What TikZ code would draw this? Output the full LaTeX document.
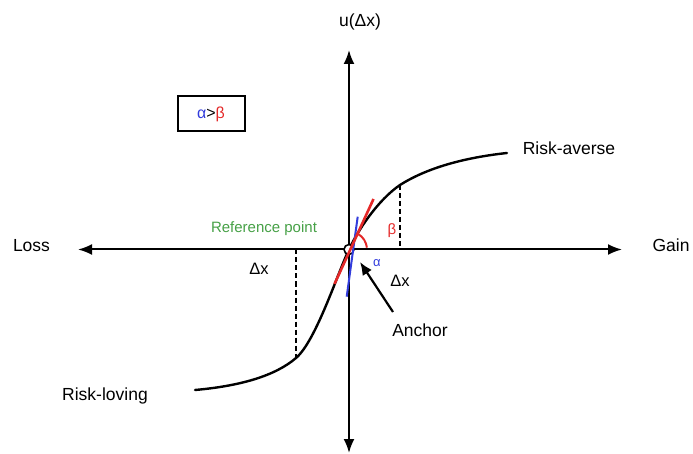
\documentclass[tikz,border=0pt]{standalone}
\usepackage{fontspec}
\setmainfont{Liberation Sans}
\usetikzlibrary{arrows.meta,calc}
\definecolor{myred}{RGB}{228,40,40}
\definecolor{myblue}{RGB}{50,60,220}
\definecolor{mygreen}{RGB}{70,160,70}
\tikzset{
  axis/.style={line width=2pt,-{Latex[length=14pt,width=11pt]}},
  curvestyle/.style={line width=2.4pt,line cap=round},
  dashline/.style={line width=2.4pt,dash pattern=on 5pt off 3pt},
  lbl/.style={font=\fontsize{17.5}{20}\selectfont,inner sep=0pt,anchor=base},
  smalllbl/.style={font=\fontsize{15}{18}\selectfont,inner sep=0pt,anchor=base},
}
\begin{document}
\begin{tikzpicture}[x=1pt,y=-1pt]
\useasboundingbox (0,0) rectangle (693,454);
% axes
\coordinate (O) at (349,249.5);
\coordinate (L) at (78,249.5);
\coordinate (R) at (622,249.5);
\coordinate (T) at (349,50);
\coordinate (B) at (349,453);
\draw[axis] (O) -- (L);
\draw[axis] (O) -- (R);
\draw[axis] (O) -- (T);
\draw[axis] (O) -- (B);
% curve
\coordinate (C0) at (195,390);
\coordinate (C1) at (296,358);
\coordinate (C2) at (400,185);
\coordinate (C3) at (507,153);
\draw[curvestyle] (C0) .. controls (240,386) and (275,376) .. (C1)
  .. controls (316,341) and (338,272) .. (O)
  .. controls (358,230) and (378,200) .. (C2)
  .. controls (430,166) and (470,157) .. (C3);
% dashed
\coordinate (D1) at (296,249.5);
\coordinate (D2) at (400,249.5);
\draw[dashline] (D1) -- (C1);
\draw[dashline] (C2) -- (D2);
% origin circle
\node[circle,draw,fill=white,line width=1.6pt,minimum size=10pt,inner sep=0pt] (oc) at (O) {};
% tangents
\coordinate (BL1) at (357.7,216.7);
\coordinate (BL2) at (346.7,296.7);
\draw[myblue,line width=2pt] (BL1) -- (BL2);
\coordinate (RL1) at (373.5,199);
\coordinate (RL2) at (334.5,284);
\draw[myred,line width=2.6pt] (RL1) -- (RL2);
\draw[myred,line width=2pt] ($(O)+(-60:18)$) arc[start angle=-60,end angle=-6,radius=18];
% anchor arrow
\coordinate (AT) at (360,262);
\node[lbl] (anchor) at (420,336.7) {Anchor};
\draw[line width=2.2pt,-{Latex[length=13pt,width=11pt]}] (393,312) -- (AT);
% labels
\node[lbl] (loss) at (31.5,252) {Loss};
\node[lbl] (gain) at (671,252) {Gain};
\node[lbl] (ra) at (569,155) {Risk-averse};
\node[lbl] (rl) at (105,400) {Risk-loving};
\node[lbl] (u) at (360,27) {u(Δx)};
\node[lbl,font=\fontsize{16.5}{18}\selectfont] (dx1) at (259,274) {Δx};
\node[lbl,font=\fontsize{16.5}{18}\selectfont] (dx2) at (400,287) {Δx};
\node[smalllbl,text=mygreen] (ref) at (264,233) {Reference point};
\node[smalllbl,text=myred] (beta) at (392,235) {β};
\node[smalllbl,text=myblue,font=\fontsize{13}{15}\selectfont] (alpha) at (377,267) {α};
\node[draw,line width=1.5pt,minimum width=67pt,minimum height=35pt,inner sep=0pt] (box) at (211.5,113.5) {};
\node[lbl,font=\fontsize{16}{18}\selectfont] (ineq) at (211,119) {\textcolor{myblue}{α}>\textcolor{myred}{β}};
\end{tikzpicture}
\end{document}
